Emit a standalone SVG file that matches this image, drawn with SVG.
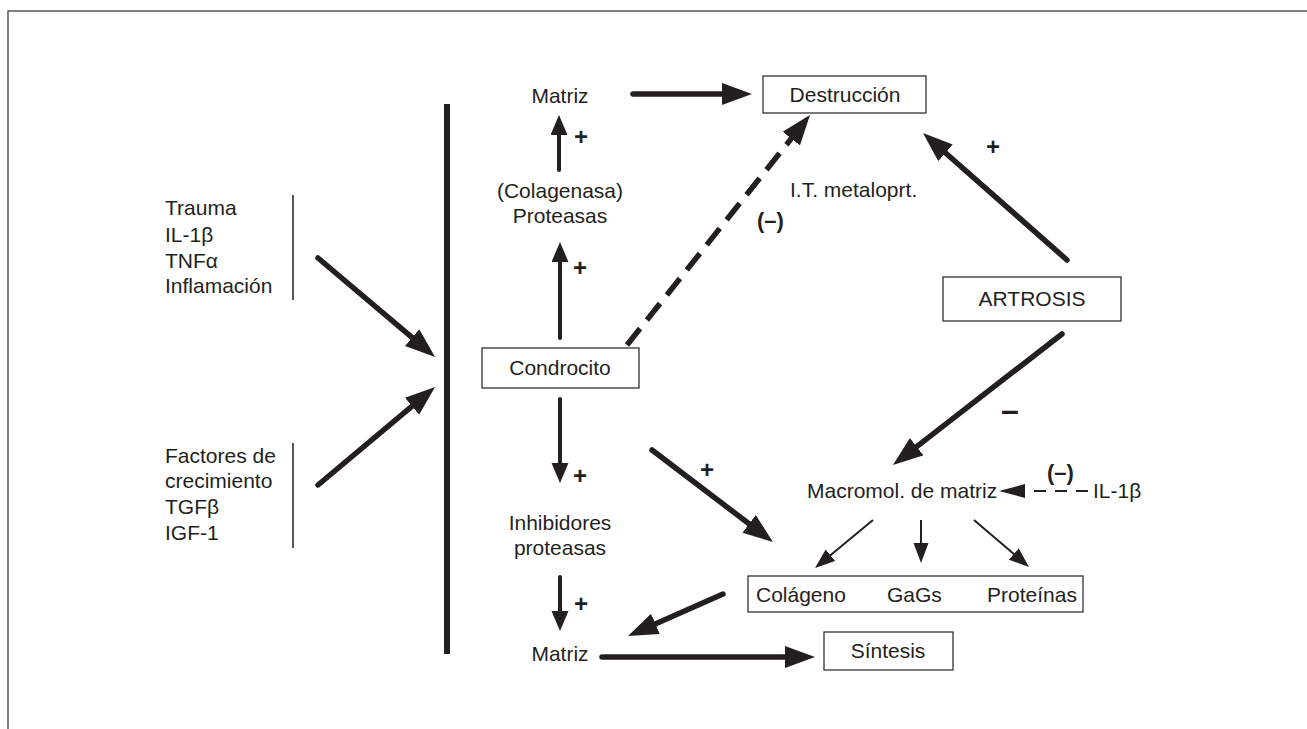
<svg xmlns="http://www.w3.org/2000/svg" width="1307" height="729" viewBox="0 0 1307 729">
<style>
text{font-family:"Liberation Sans",Arial,sans-serif;font-size:21px;fill:#231f20}
.b{font-weight:bold}
.m{text-anchor:middle}
.p{font-size:24px;font-weight:bold;text-anchor:middle}
.box{fill:#fff;stroke:#333;stroke-width:1.3}
.thick{stroke:#231f20;stroke-width:5.5;stroke-linecap:round;fill:none}
.med{stroke:#231f20;stroke-width:4;stroke-linecap:round;fill:none}
.thin{stroke:#231f20;stroke-width:2;fill:none}
.dash{stroke:#231f20;stroke-width:5.5;stroke-dasharray:21 11;fill:none}
</style>
<defs>
<marker id="ah" markerUnits="userSpaceOnUse" markerWidth="32" markerHeight="24" refX="4" refY="11" orient="auto"><path d="M0,0 L30,11 L0,22 z" fill="#231f20"/></marker>
<marker id="am" markerUnits="userSpaceOnUse" markerWidth="22" markerHeight="18" refX="3" refY="8.5" orient="auto"><path d="M0,0 L20,8.5 L0,17 z" fill="#231f20"/></marker>
<marker id="at" markerUnits="userSpaceOnUse" markerWidth="22" markerHeight="16" refX="2" refY="7.5" orient="auto"><path d="M0,0 L20,7.5 L0,15 z" fill="#231f20"/></marker>
</defs>
<path d="M8,729 L8,11 L1307,11" fill="none" stroke="#555" stroke-width="1.5"/>
<g id="connectors">
<rect x="444" y="104" width="6" height="550" fill="#231f20"/>
<line x1="293" y1="195" x2="293" y2="300" stroke="#231f20" stroke-width="1.5"/>
<line x1="293" y1="443" x2="293" y2="548" stroke="#231f20" stroke-width="1.5"/>
<line class="thick" x1="318" y1="258" x2="415.2" y2="340.2" marker-end="url(#ah)"/>
<line class="thick" x1="318" y1="485" x2="415.1" y2="403.7" marker-end="url(#ah)"/>
<line class="thick" x1="633" y1="94" x2="726" y2="94" marker-end="url(#ah)"/>
<line class="med" x1="559" y1="170" x2="559" y2="132" marker-end="url(#am)"/>
<line class="med" x1="560" y1="338" x2="560" y2="259" marker-end="url(#am)"/>
<line class="med" x1="560" y1="399" x2="560" y2="466" marker-end="url(#am)"/>
<line class="med" x1="560" y1="577" x2="560" y2="614" marker-end="url(#am)"/>
<line class="thick" x1="602" y1="657" x2="789" y2="657" marker-end="url(#ah)"/>
<line class="thick" x1="723" y1="594" x2="651.8" y2="625.5" marker-end="url(#ah)"/>
<line class="thick" x1="652" y1="450" x2="752.3" y2="526.3" marker-end="url(#ah)"/>
<line class="thick" x1="1067" y1="260" x2="942.5" y2="150.2" marker-end="url(#ah)"/>
<line class="thick" x1="1062" y1="334" x2="913.5" y2="449.1" marker-end="url(#ah)"/>
<line class="dash" x1="627" y1="345" x2="793.8" y2="135.4" marker-end="url(#ah)"/>
<line class="thin" x1="873" y1="520" x2="828.9" y2="556.5" marker-end="url(#at)"/>
<line class="thin" x1="921" y1="520" x2="921" y2="545" marker-end="url(#at)"/>
<line class="thin" x1="974" y1="520" x2="1015.3" y2="555.3" marker-end="url(#at)"/>
<path d="M999,491 L1025,484 L1025,498 z" fill="#231f20"/>
<line x1="1034" y1="491" x2="1090" y2="491" stroke="#231f20" stroke-width="2" stroke-dasharray="12 9"/>
</g>
<g id="left-top">
<text x="165" y="215">Trauma</text>
<text x="165" y="242">IL-1β</text>
<text x="165" y="268">TNFα</text>
<text x="165" y="293">Inflamación</text>
</g>
<g id="left-bottom">
<text x="165" y="463">Factores de</text>
<text x="165" y="488">crecimiento</text>
<text x="165" y="514">TGFβ</text>
<text x="165" y="540">IGF-1</text>
</g>
<g id="matriz-top"><text class="m" x="560" y="103">Matriz</text></g>
<g id="destruccion"><rect class="box" x="763" y="76" width="163" height="37"/><text class="m" x="845" y="102">Destrucción</text></g>
<g id="proteasas"><text class="m" x="560" y="198">(Colagenasa)</text><text class="m" x="560" y="223">Proteasas</text></g>
<g id="condrocito"><rect class="box" x="482" y="348" width="157" height="40"/><text class="m" x="560" y="375">Condrocito</text></g>
<g id="itmetal"><text x="790" y="197">I.T. metaloprt.</text><text class="b" x="757" y="228" style="font-size:22px">(–)</text></g>
<g id="artrosis"><rect class="box" x="943" y="277" width="178" height="44"/><text class="m" x="1032" y="306">ARTROSIS</text></g>
<g id="inhibidores"><text class="m" x="560" y="530">Inhibidores</text><text class="m" x="560" y="555">proteasas</text></g>
<g id="matriz-bottom"><text class="m" x="560" y="661">Matriz</text></g>
<g id="sintesis"><rect class="box" x="824" y="632" width="129" height="38"/><text class="m" x="888" y="658">Síntesis</text></g>
<g id="macromol"><text x="807" y="498">Macromol. de matriz</text></g>
<g id="il1b"><text x="1093" y="498">IL-1β</text><text class="b" x="1047" y="480" style="font-size:22px">(–)</text></g>
<g id="componentes"><rect class="box" x="748" y="576" width="335" height="36"/><text x="756" y="602">Colágeno</text><text x="887" y="602">GaGs</text><text x="987" y="602">Proteínas</text></g>
<g id="signs">
<text class="p" x="581" y="145">+</text>
<text class="p" x="580" y="276">+</text>
<text class="p" x="580" y="484">+</text>
<text class="p" x="581" y="612">+</text>
<text class="p" x="707" y="478">+</text>
<text class="p" x="993" y="155">+</text>
<text class="p" x="1010" y="421" style="font-size:32px">–</text>
</g>
</svg>
